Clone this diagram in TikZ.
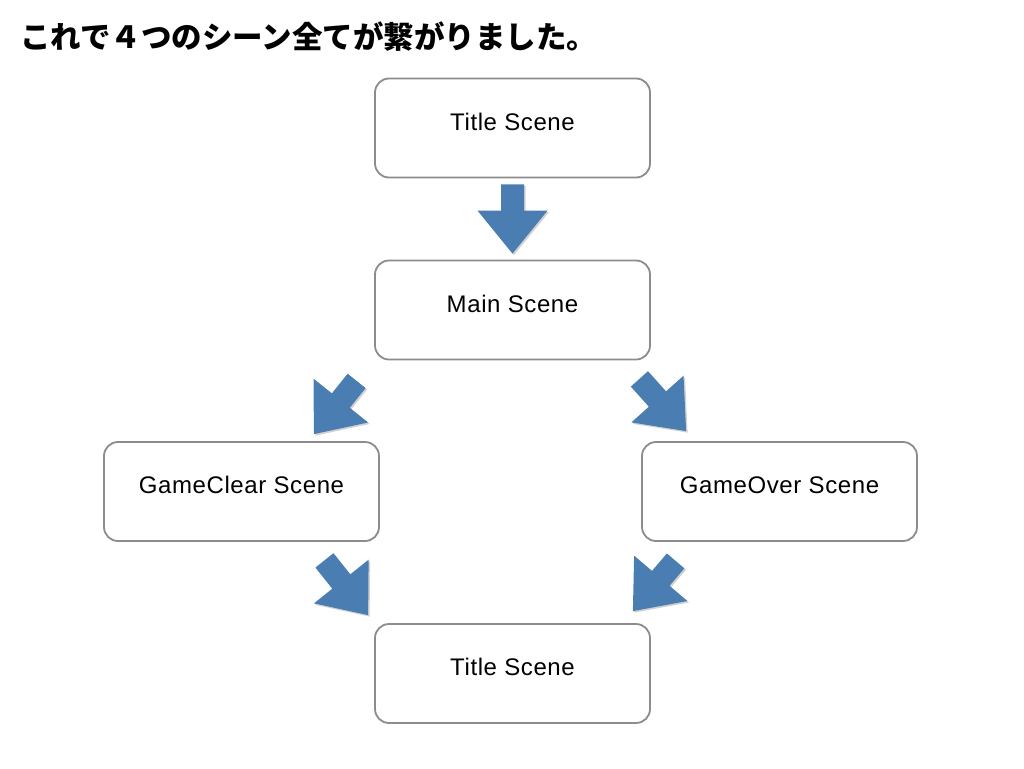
\documentclass[tikz,border=0pt]{standalone}
\usepackage{fontspec}
\setmainfont{Liberation Sans}
\newfontfamily\jpfont{Noto Sans CJK JP}
\usetikzlibrary{calc,shadows}
\definecolor{arrowblue}{RGB}{74,126,178}
\definecolor{boxgray}{RGB}{140,140,140}
\tikzset{
  scenebox/.style={draw=boxgray, line width=1.8pt, rounded corners=14pt, fill=white,
    minimum width=275pt, minimum height=99pt, inner sep=0pt,
    font=\fontsize{24}{28}\selectfont\addfontfeature{LetterSpace=2.5},
    text height=17pt, text depth=13pt},
  blockfill/.style={fill=arrowblue, drop shadow={opacity=0.3, shadow xshift=1.5pt, shadow yshift=-1.5pt, fill=black!60}},
  headline/.style={anchor=west, inner sep=0pt, font=\jpfont\bfseries\fontsize{30.5}{34}\selectfont}
}
\newcommand\blkarrow[2]{%
  \coordinate (hb) at ($(#2)!43pt!(#1)$);
  \fill[blockfill] ($(#1)!11.5pt!90:(#2)$) -- ($(hb)!11.5pt!90:(#2)$) -- ($(hb)!35pt!90:(#2)$)
    -- (#2) -- ($(hb)!35pt!-90:(#2)$) -- ($(hb)!11.5pt!-90:(#2)$) -- ($(#1)!11.5pt!-90:(#2)$) -- cycle;}
\begin{document}
\begin{tikzpicture}[x=1pt,y=-1pt]
\useasboundingbox (0,0) rectangle (1024,768);
\node[headline] (head) at (20,37) {これで４つのシーン全てが繋がりました。};
\node[scenebox] (t1) at (512.5,128) {Title Scene};
\node[scenebox] (main) at (512.5,310) {Main Scene};
\node[scenebox] (clear) at (241.5,491.5) {GameClear Scene};
\node[scenebox] (over) at (779.5,491.5) {GameOver Scene};
\node[scenebox] (t2) at (512.5,673.5) {Title Scene};
\coordinate (a1s) at ($(t1.south)+(0,6)$);
\coordinate (a1e) at ($(main.north)+(0,-6)$);
\coordinate (a2s) at ($(main.south west)+(-17.5,20.5)$);
\coordinate (a2e) at ($(clear.north east)+(-66,-7)$);
\coordinate (a3s) at ($(main.south east)+(-11.5,18.5)$);
\coordinate (a3e) at ($(over.north west)+(45,-10)$);
\coordinate (a4s) at ($(clear.south east)+(-55.5,18.5)$);
\coordinate (a4e) at ($(t2.north west)+(-6,-8)$);
\coordinate (a5s) at ($(over.south west)+(34.5,19)$);
\coordinate (a5e) at ($(t2.north east)+(-18,-12)$);
\blkarrow{a1s}{a1e}
\blkarrow{a2s}{a2e}
\blkarrow{a3s}{a3e}
\blkarrow{a4s}{a4e}
\blkarrow{a5s}{a5e}
\end{tikzpicture}
\end{document}
